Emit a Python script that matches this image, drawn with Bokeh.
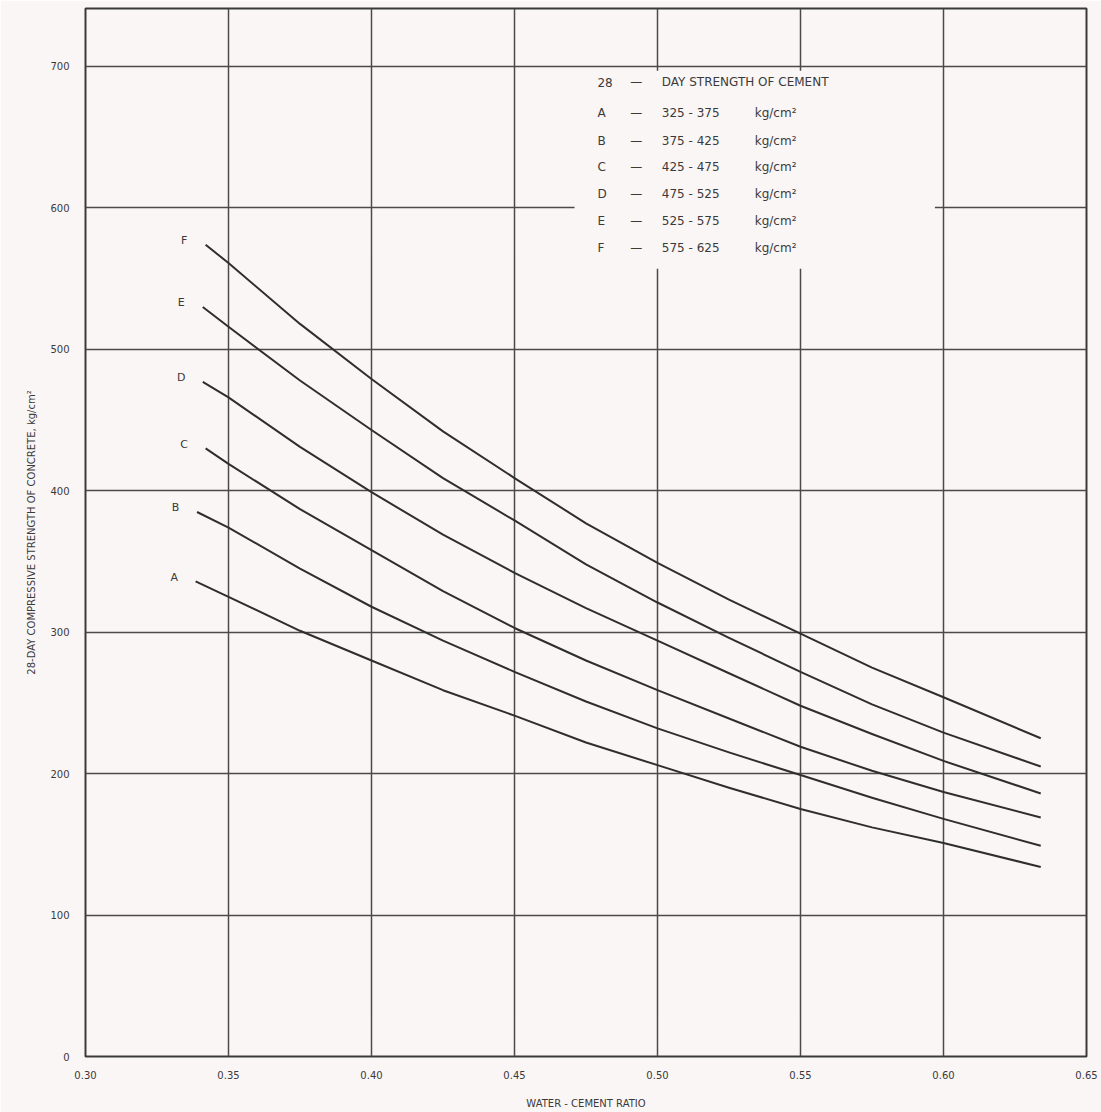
from bokeh.plotting import figure
from bokeh.models import Range1d, FixedTicker
from bokeh.core.properties import value
from bokeh.embed import file_html
from bokeh.resources import INLINE

# ---- data ----
series_names = ["A", "B", "C", "D", "E", "F"]
wc_A = [0.3385, 0.35, 0.375, 0.40, 0.425, 0.45, 0.475, 0.50, 0.525, 0.55, 0.575, 0.60, 0.634]
str_A = [336, 325, 301, 280, 259, 241, 222, 206, 190, 175, 162, 151, 134]
wc_B = [0.339, 0.35, 0.375, 0.40, 0.425, 0.45, 0.475, 0.50, 0.525, 0.55, 0.575, 0.60, 0.634]
str_B = [385, 374, 345, 318, 294, 272, 251, 232, 215, 199, 183, 168, 149]
wc_C = [0.342, 0.35, 0.375, 0.40, 0.425, 0.45, 0.475, 0.50, 0.525, 0.55, 0.575, 0.60, 0.634]
str_C = [430, 419, 387, 358, 329, 303, 280, 259, 239, 219, 202, 187, 169]
wc_D = [0.341, 0.35, 0.375, 0.40, 0.425, 0.45, 0.475, 0.50, 0.525, 0.55, 0.575, 0.60, 0.634]
str_D = [477, 466, 431, 399, 369, 342, 317, 294, 271, 248, 228, 209, 186]
wc_E = [0.341, 0.35, 0.375, 0.40, 0.425, 0.45, 0.475, 0.50, 0.525, 0.55, 0.575, 0.60, 0.634]
str_E = [530, 516, 478, 443, 409, 379, 348, 321, 296, 272, 249, 229, 205]
wc_F = [0.342, 0.35, 0.375, 0.40, 0.425, 0.45, 0.475, 0.50, 0.525, 0.55, 0.575, 0.60, 0.634]
str_F = [574, 561, 518, 479, 442, 409, 377, 349, 323, 299, 275, 254, 225]

legend_title_parts = ["28", "—", "DAY STRENGTH OF CEMENT"]
legend_ranges = ["325 - 375", "375 - 425", "425 - 475", "475 - 525", "525 - 575", "575 - 625"]
legend_unit = "kg/cm²"

x_ticks = [0.30, 0.35, 0.40, 0.45, 0.50, 0.55, 0.60, 0.65]
x_tick_labels = ["0.30", "0.35", "0.40", "0.45", "0.50", "0.55", "0.60", "0.65"]
y_ticks = [0, 100, 200, 300, 400, 500, 600, 700]

x_title = "WATER - CEMENT RATIO"
y_title = "28-DAY COMPRESSIVE STRENGTH OF CONCRETE, kg/cm²"

# ---- styling ----
BG = "#fbf6f6"
INK = "#3a3a3a"
FONT = "DejaVu Sans"

p = figure(width=1101, height=1112, output_backend="svg", toolbar_location=None,
           x_range=Range1d(0.30, 0.65), y_range=Range1d(0, 741),
           min_border_left=85, min_border_right=15, min_border_top=8, min_border_bottom=56)
p.background_fill_color = BG
p.border_fill_color = BG
p.outline_line_color = INK
p.outline_line_width = 2

p.xaxis.ticker = FixedTicker(ticks=x_ticks)
p.xaxis.major_label_overrides = {t: l for t, l in zip(x_ticks, x_tick_labels)}
p.yaxis.ticker = FixedTicker(ticks=y_ticks)
for ax in (p.xaxis, p.yaxis):
    ax.axis_line_color = None
    ax.major_tick_line_color = None
    ax.minor_tick_line_color = None
    ax.major_label_text_font = FONT
    ax.major_label_text_font_size = "10px"
    ax.major_label_text_color = INK
    ax.axis_label_text_font = FONT
    ax.axis_label_text_font_size = "10px"
    ax.axis_label_text_font_style = "normal"
    ax.axis_label_text_color = INK
p.xaxis.major_label_standoff = 8
p.yaxis.major_label_standoff = 10
p.xaxis.axis_label = x_title
p.yaxis.axis_label = y_title
p.xaxis.axis_label_standoff = 16
p.yaxis.axis_label_standoff = 10

p.grid.grid_line_color = "#4a4a4a"
p.grid.grid_line_width = 1.5
p.xgrid.ticker = FixedTicker(ticks=x_ticks)
p.ygrid.ticker = FixedTicker(ticks=y_ticks)

# blank area behind the legend block (grid is interrupted there)
p.quad(left=0.471, right=0.597, top=697, bottom=557, fill_color=BG, line_color=None)

curves = [(wc_A, str_A), (wc_B, str_B), (wc_C, str_C), (wc_D, str_D), (wc_E, str_E), (wc_F, str_F)]
for name, (xs, ys) in zip(series_names, curves):
    p.line(xs, ys, line_color="#2e2e2e", line_width=2, line_join="round")
    p.text(x=[xs[0] - 0.0075], y=[ys[0] + 3], text=[name], text_font=value(FONT),
           text_font_size="11px", text_color=INK, text_align="center", text_baseline="middle")

LFS = "12px"
# legend block drawn as text
for part, lx in zip(legend_title_parts, [0.479, 0.4905, 0.5015]):
    p.text(x=[lx], y=[689], text=[part], text_font=value(FONT), text_font_size=LFS,
           text_color=INK, text_align="left", text_baseline="middle")
row_y = [667, 647, 629, 610, 591, 572]
for name, rng, ry in zip(series_names, legend_ranges, row_y):
    p.text(x=[0.479], y=[ry], text=[name], text_font=value(FONT), text_font_size=LFS,
           text_color=INK, text_align="left", text_baseline="middle")
    p.text(x=[0.4905], y=[ry], text=["—"], text_font=value(FONT), text_font_size=LFS,
           text_color=INK, text_align="left", text_baseline="middle")
    p.text(x=[0.5015], y=[ry], text=[rng], text_font=value(FONT), text_font_size=LFS,
           text_color=INK, text_align="left", text_baseline="middle")
    p.text(x=[0.534], y=[ry], text=[legend_unit], text_font=value(FONT), text_font_size=LFS,
           text_color=INK, text_align="left", text_baseline="middle")

open("out.html", "w").write(file_html(p, INLINE))
